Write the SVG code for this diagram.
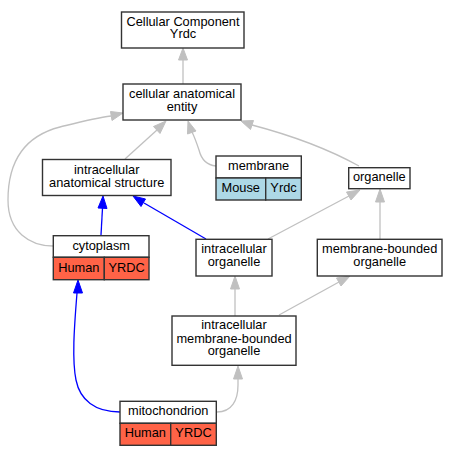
<svg xmlns="http://www.w3.org/2000/svg" width="456" height="456" viewBox="0 0 456 456">
<style>
.box{fill:#fff;stroke:#333;stroke-width:1.4}
.hu{fill:#ff6347;stroke:#333;stroke-width:1.4}
.mo{fill:#add8e6;stroke:#333;stroke-width:1.4}
text{font-family:"Liberation Sans",Arial,sans-serif;font-size:12.8px;text-anchor:middle;fill:#000}
.g{fill:none;stroke:#c0c0c0;stroke-width:1.3}
.b{fill:none;stroke:#0000ff;stroke-width:1.3}
.ga{fill:#c0c0c0;stroke:#c0c0c0}
.ba{fill:#0000ff;stroke:#0000ff}
</style>
<rect width="456" height="456" fill="#fff"/>
<g id="connectors">
<path class="g" d="M183,84 L183,60"/>
<polygon class="ga" points="183,48 178.5,60 187.5,60"/>
<path class="g" d="M125,159 L157,130"/>
<polygon class="ga" points="166,121 153.5,126.5 160,133.5"/>
<path class="g" d="M216,166 C205,165 201,158 199,150 C197,144 195,138 192,132"/>
<polygon class="ga" points="188,121 187.5,134 196,131"/>
<path class="g" d="M359,166 C330,150 290,135 252,125"/>
<polygon class="ga" points="241,121 250.5,129.5 253.5,120.5"/>
<path class="g" d="M53,246 C30,246 8,232 8,200 C8,160 25,136 60,127 C80,122 95,118 111,116"/>
<polygon class="ga" points="123,113 110.5,111.5 112,120.5"/>
<path class="b" d="M101,235 L102.5,208"/>
<polygon class="ba" points="103,196 98,208 107,208.5"/>
<path class="b" d="M206,239 L144,203"/>
<polygon class="ba" points="133,196 141,206.5 145.5,199"/>
<path class="g" d="M268,239 L349,196"/>
<polygon class="ga" points="360,190 346.5,192 351,200"/>
<path class="g" d="M380,239 L380,202"/>
<polygon class="ga" points="380,189 375.5,202 384.5,202"/>
<path class="g" d="M235,316 L235,289"/>
<polygon class="ga" points="235,276 230.5,289 239.5,289"/>
<path class="g" d="M279,315 L339,282"/>
<polygon class="ga" points="350,276 336.5,278 341,286"/>
<path class="b" d="M120,412 C95,412 80,400 76,380 C72,360 74,330 77,293"/>
<polygon class="ba" points="78,280 73.5,293 82.5,293"/>
<path class="g" d="M217,412 C232,412 238,400 238,385 L238,379"/>
<polygon class="ga" points="238,366 233.5,379 242.5,379"/>
</g>
<g id="n_cc">
<rect class="box" x="121.5" y="12" width="122.5" height="36"/>
<text x="183" y="25.7">Cellular Component</text>
<text x="183" y="38.3">Yrdc</text>
</g>
<g id="n_cae">
<rect class="box" x="123" y="84" width="118" height="36"/>
<text x="182" y="98.3">cellular anatomical</text>
<text x="182" y="111">entity</text>
</g>
<g id="n_ias">
<rect class="box" x="42.5" y="159.5" width="128.5" height="36"/>
<text x="106.7" y="174">intracellular</text>
<text x="106.7" y="186.7">anatomical structure</text>
</g>
<g id="n_membrane">
<rect class="box" x="216" y="156" width="85.3" height="22"/>
<rect class="mo" x="216" y="178" width="49.7" height="22"/>
<rect class="mo" x="265.7" y="178" width="35.6" height="22"/>
<text x="258.6" y="170">membrane</text>
<text x="240.8" y="191.7">Mouse</text>
<text x="283.5" y="191.7">Yrdc</text>
</g>
<g id="n_organelle">
<rect class="box" x="348.7" y="167.7" width="61.3" height="21"/>
<text x="379.3" y="180.7">organelle</text>
</g>
<g id="n_cytoplasm">
<rect class="box" x="53.3" y="235.7" width="95.7" height="21.6"/>
<rect class="hu" x="53.3" y="257.3" width="51" height="22.4"/>
<rect class="hu" x="104.3" y="257.3" width="44.7" height="22.4"/>
<text x="101.2" y="250">cytoplasm</text>
<text x="78.8" y="271.7">Human</text>
<text x="126.6" y="271.7">YRDC</text>
</g>
<g id="n_io">
<rect class="box" x="196" y="239.3" width="76" height="36.7"/>
<text x="234" y="253.3">intracellular</text>
<text x="234" y="266">organelle</text>
</g>
<g id="n_mbo">
<rect class="box" x="317.3" y="239.3" width="124.7" height="36.7"/>
<text x="379.7" y="253.3">membrane-bounded</text>
<text x="379.7" y="266">organelle</text>
</g>
<g id="n_imbo">
<rect class="box" x="172" y="316" width="124" height="49.3"/>
<text x="234" y="329.3">intracellular</text>
<text x="234" y="342.7">membrane-bounded</text>
<text x="234" y="355">organelle</text>
</g>
<g id="n_mito">
<rect class="box" x="120" y="401.3" width="96.3" height="22"/>
<rect class="hu" x="120" y="423.3" width="50.7" height="22"/>
<rect class="hu" x="170.7" y="423.3" width="45.6" height="22"/>
<text x="168.2" y="415">mitochondrion</text>
<text x="145.3" y="436.7">Human</text>
<text x="193.5" y="436.7">YRDC</text>
</g>
</svg>
